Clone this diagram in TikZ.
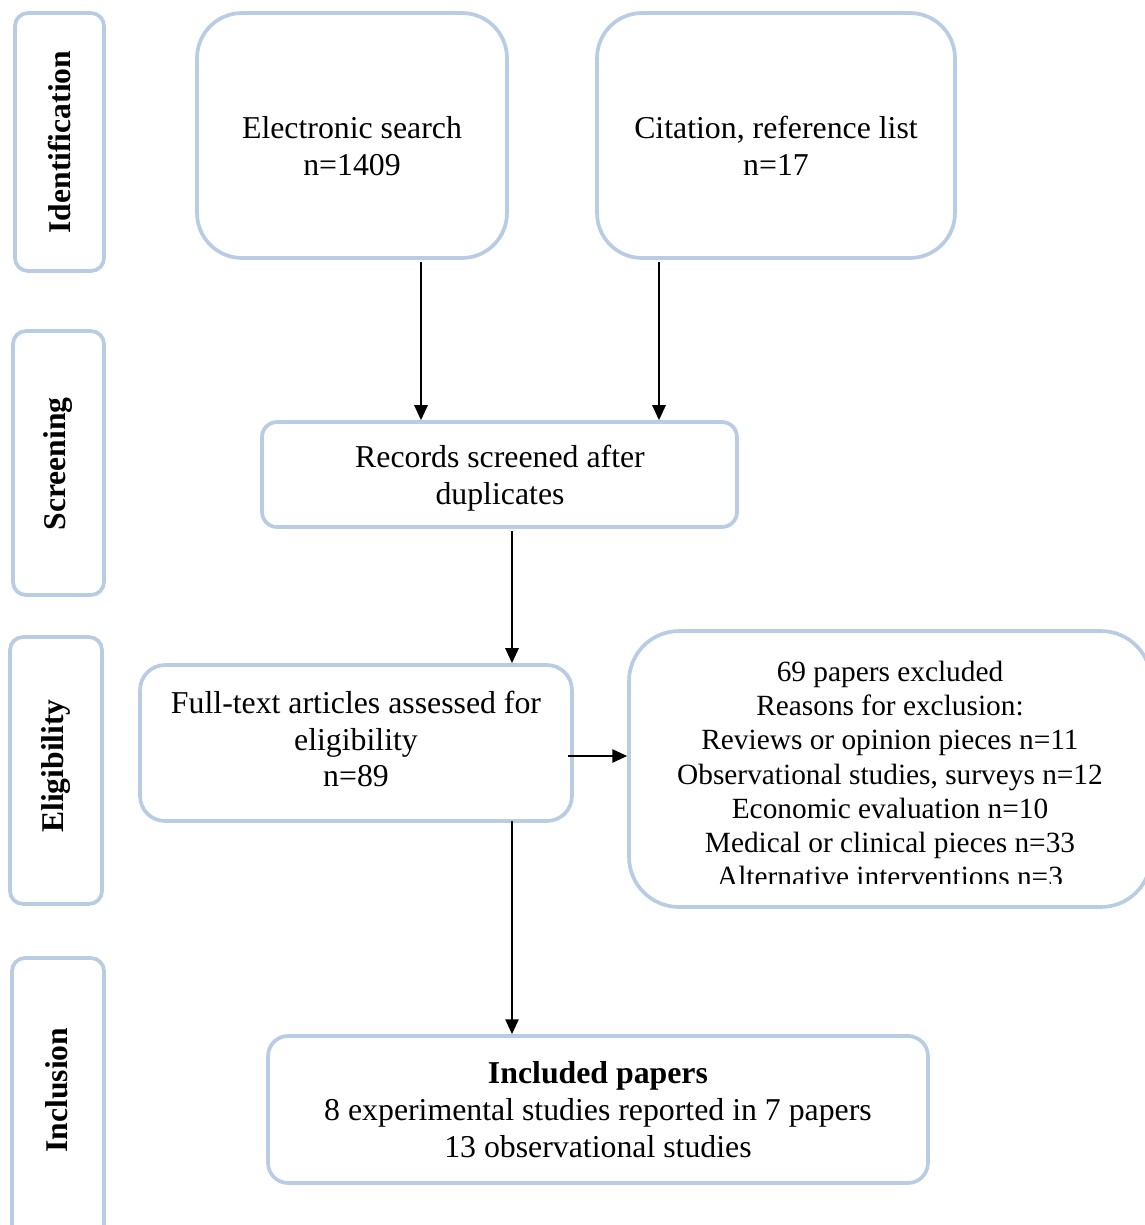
\documentclass[tikz,border=0pt]{standalone}
\usepackage{fontspec}
\setmainfont{Liberation Serif}
\usetikzlibrary{arrows.meta}
\definecolor{boxblue}{RGB}{184,204,228}
\begin{document}
\begin{tikzpicture}[x=0.02cm,y=-0.02cm,
  box/.style={draw=boxblue, line width=2.1pt, fill=none, inner sep=0pt},
  side/.style={box, rounded corners=0.26cm},
  sidetxt/.style={rotate=90, inner sep=0pt, font=\fontsize{18}{21}\selectfont\bfseries},
  txt/.style={inner sep=0pt, align=center, font=\fontsize{18.1}{21}\selectfont},
  smalltxt/.style={inner sep=0pt, align=center, font=\fontsize{16.7}{19.4}\selectfont},
  arr/.style={line width=1.25pt, -{Triangle[length=8.5pt, width=7.5pt]}}
]
\clip (0,0) rectangle (1145,1225);
\fill[white] (0,0) rectangle (1145,1225);

% phase boxes
\node[side, minimum width=1.78cm, minimum height=5.16cm] (idb) at (59.5,142) {};
\node[side, minimum width=1.82cm, minimum height=5.28cm] (scb) at (58.5,463) {};
\node[side, minimum width=1.84cm, minimum height=5.34cm] (elb) at (56,770.5) {};
\node[side, minimum width=1.84cm, minimum height=6.0cm] (inb) at (58,1108) {};
\node[sidetxt] (idt) at (60,142) {Identification};
\node[sidetxt] (sct) at (58,464) {Screening};
\node[sidetxt] (elt) at (56,766) {Eligibility};
\node[sidetxt] (intt) at (57,1090) {Inclusion};

% main boxes
\node[box, rounded corners=0.9cm, minimum width=6.2cm, minimum height=4.9cm] (es) at (352,135.5) {};
\node[txt] (est) at (352,146.5) {Electronic search\\n=1409};
\node[box, rounded corners=0.9cm, minimum width=7.16cm, minimum height=4.9cm] (cr) at (776,135.5) {};
\node[txt] (crt) at (776,146) {Citation, reference list\\n=17};
\node[box, rounded corners=0.3cm, minimum width=9.5cm, minimum height=2.1cm] (rs) at (499.5,474.5) {};
\node[txt] (rst) at (500,478.5) {Records screened after\\duplicates};
\node[box, rounded corners=0.5cm, minimum width=8.64cm, minimum height=3.12cm] (ft) at (356,743) {};
\node[txt] (ftt) at (356,739) {Full-text articles assessed for\\eligibility\\n=89};
\node[box, rounded corners=1.0cm, minimum width=10.44cm, minimum height=5.52cm] (ex) at (890,769) {};
\begin{scope}
\clip (600,600) rectangle (1145,883);
\node[smalltxt] (ext) at (890,774) {69 papers excluded\\Reasons for exclusion:\\Reviews or opinion pieces n=11\\Observational studies, surveys n=12\\Economic evaluation n=10\\Medical or clinical pieces n=33\\Alternative interventions n=3};
\end{scope}
\node[box, rounded corners=0.4cm, minimum width=13.2cm, minimum height=2.94cm] (ip) at (598,1109.5) {};
\node[txt] (ipt) at (598,1110) {\textbf{Included papers}\\8 experimental studies reported in 7 papers\\13 observational studies};

% connectors
\coordinate (a1) at (421,262);
\coordinate (a2) at (659,262);
\coordinate (a3) at (512,531);
\coordinate (a4) at (512,821);
\coordinate (a5) at (568,756);
\draw[arr] (a1) -- (a1 |- rs.north);
\draw[arr] (a2) -- (a2 |- rs.north);
\draw[arr] (a3) -- (a3 |- ft.north);
\draw[arr] (a4) -- (a4 |- ip.north);
\draw[arr] (a5) -- (a5 -| ex.west);
\end{tikzpicture}
\end{document}
